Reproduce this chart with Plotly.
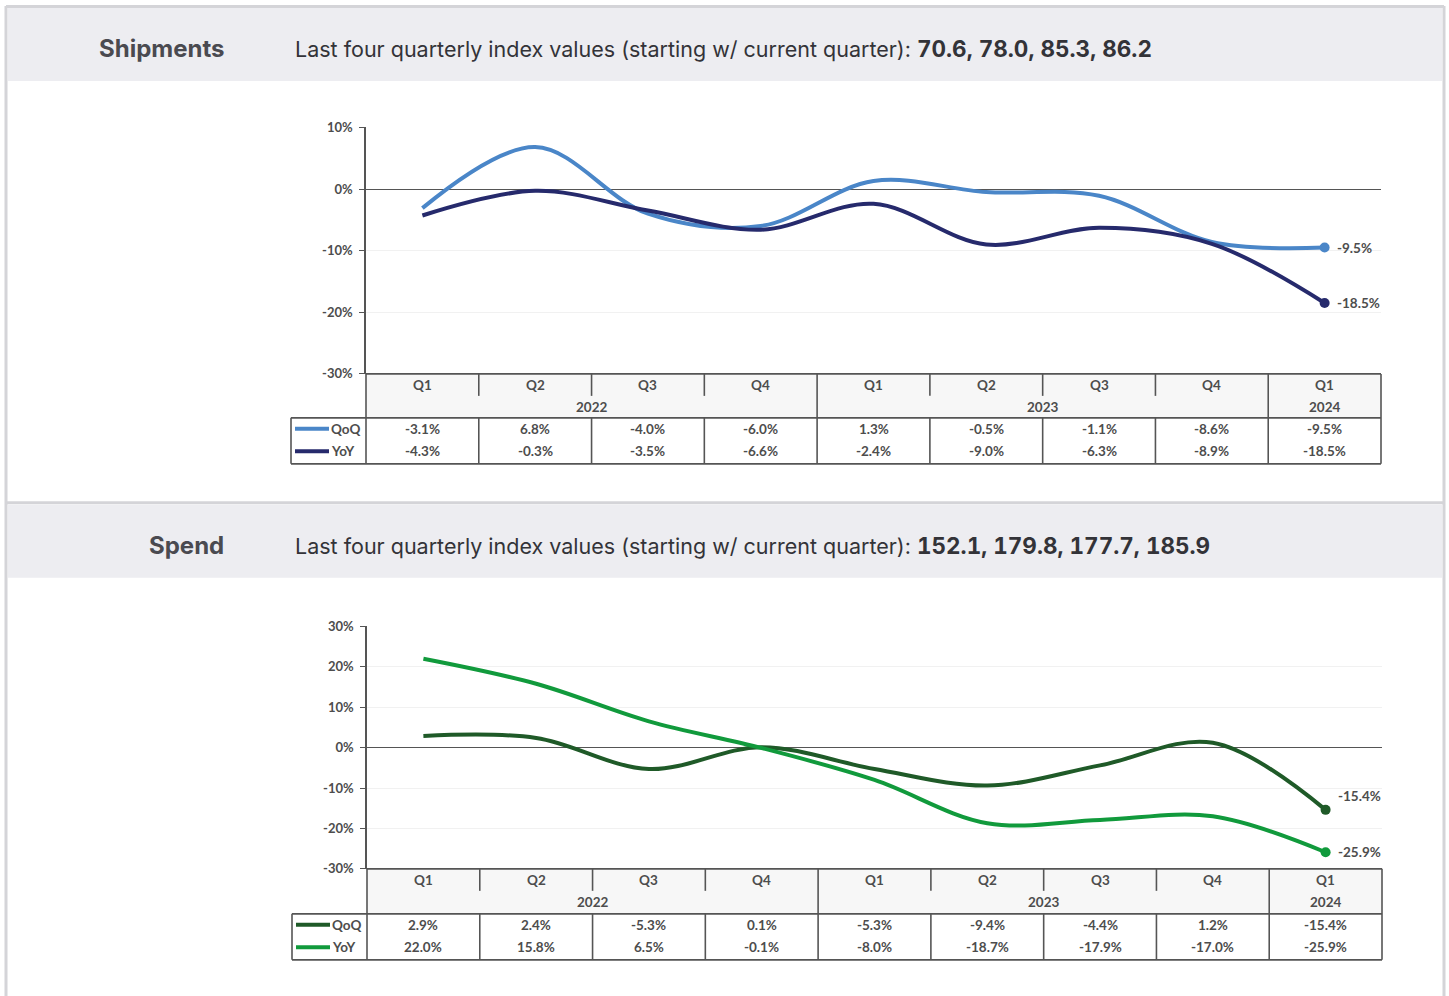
import plotly.graph_objects as go

PAGE_W, PAGE_H = 1449, 996
# vertical calibration of the viewer (measured over previous renders)
V_OFF, V_SCALE = 7.1, 0.984

quarters = ["Q1", "Q2", "Q3", "Q4", "Q1", "Q2", "Q3", "Q4", "Q1"]
years = ["2022", "2023", "2024"]
year_spans = [(0, 3), (4, 7), (8, 8)]

ship_qoq = [-3.1, 6.8, -4.0, -6.0, 1.3, -0.5, -1.1, -8.6, -9.5]
ship_yoy = [-4.3, -0.3, -3.5, -6.6, -2.4, -9.0, -6.3, -8.9, -18.5]
ship_index = [70.6, 78.0, 85.3, 86.2]

spend_qoq = [2.9, 2.4, -5.3, 0.1, -5.3, -9.4, -4.4, 1.2, -15.4]
spend_yoy = [22.0, 15.8, 6.5, -0.1, -8.0, -18.7, -17.9, -17.0, -25.9]
spend_index = [152.1, 179.8, 177.7, 185.9]

ship_ticks = [10, 0, -10, -20, -30]
spend_ticks = [30, 20, 10, 0, -10, -20, -30]

C_SHIP_QOQ = "#4a86c8"
C_SHIP_YOY = "#262a6c"
C_SPEND_QOQ = "#1f5a28"
C_SPEND_YOY = "#119a3c"
TXT = "#4d4d4d"
BORDER = "#555555"
TFONT = "Lato"
HFONT = "Inter"


def X(px):
    return px / PAGE_W


def Y(py):
    return 1 - ((py - V_OFF) / V_SCALE) / PAGE_H


fig = go.Figure()
shapes = []
annotations = []


def ann(**kw):
    kw.setdefault("showarrow", False)
    kw.setdefault("xanchor", "center")
    kw.setdefault("yanchor", "middle")
    annotations.append(kw)


def tfont(size=13.5):
    return dict(family=TFONT, size=size, color=TXT, weight="bold")


sections = [
    dict(name="Shipments", index=ship_index, qoq=ship_qoq, yoy=ship_yoy,
         cq=C_SHIP_QOQ, cy=C_SHIP_YOY, ticks=ship_ticks, rng=[-30, 10],
         title_y=48, left=366, right=1381, top=126.5, bottom=373,
         table_left=291, hdr_mid=395, hdr_bot=417, tbl_bot=463,
         xa="x", ya="y", lbl_shift=[0, 0]),
    dict(name="Spend", index=spend_index, qoq=spend_qoq, yoy=spend_yoy,
         cq=C_SPEND_QOQ, cy=C_SPEND_YOY, ticks=spend_ticks, rng=[-30, 30],
         title_y=545, left=367, right=1382, top=625.5, bottom=868,
         table_left=292, hdr_mid=890, hdr_bot=913, tbl_bot=959,
         xa="x2", ya="y2", lbl_shift=[14, 0]),
]

# page frame
shapes.append(dict(type="rect", xref="paper", yref="paper", x0=X(8), x1=X(1442),
                   y0=Y(7), y1=Y(80), fillcolor="#ededf1", line=dict(width=0), layer="below"))
shapes.append(dict(type="rect", xref="paper", yref="paper", x0=X(8), x1=X(1442),
                   y0=Y(504), y1=Y(577), fillcolor="#ededf1", line=dict(width=0), layer="below"))
for seg in [((6, 5.5), (1444, 5.5)), ((6, 5), (6, 996)), ((1444, 5), (1444, 996)), ((6, 502), (1444, 502))]:
    (xa0, ya0), (xa1, ya1) = seg
    shapes.append(dict(type="line", xref="paper", yref="paper", x0=X(xa0), y0=Y(ya0),
                       x1=X(xa1), y1=Y(ya1), line=dict(color="#d4d4d8", width=3)))

for k, s in enumerate(sections):
    xa, ya = s["xa"], s["ya"]
    xs = list(range(len(quarters)))
    for vals, col, nm in [(s["qoq"], s["cq"], "QoQ"), (s["yoy"], s["cy"], "YoY")]:
        fig.add_trace(go.Scatter(x=xs, y=vals, mode="lines", xaxis=xa, yaxis=ya,
                                 line=dict(color=col, width=4, shape="spline", smoothing=1.0),
                                 showlegend=False, hoverinfo="skip"))
        fig.add_trace(go.Scatter(x=[xs[-1]], y=[vals[-1]], mode="markers", xaxis=xa, yaxis=ya,
                                 marker=dict(color=col, size=10), showlegend=False, hoverinfo="skip"))
    for vals, sh in [(s["qoq"], s["lbl_shift"][0]), (s["yoy"], s["lbl_shift"][1])]:
        ann(x=xs[-1], y=vals[-1], xref=xa, yref=ya, text=f"{vals[-1]:.1f}%",
            xanchor="left", xshift=10, yshift=sh, font=tfont())

    # header
    ann(x=X(226), y=Y(s["title_y"]), xref="paper", yref="paper",
        text=f"<b>{s['name']}</b>", xanchor="right",
        font=dict(family=HFONT, size=24, color="#4a4a50"))
    idx_txt = ", ".join(f"{v:.1f}" for v in s["index"])
    ann(x=X(293), y=Y(s["title_y"]), xref="paper", yref="paper",
        text=("Last four quarterly index values (starting w/ current quarter): "
              f"<span style='font-size:22.5px;font-variant-numeric:tabular-nums'><b>{idx_txt}</b></span>"),
        xanchor="left", font=dict(family=HFONT, size=21.5, color="#333338"))

    # table
    L, R = s["left"], s["right"]
    t0, tm, tb, tbot = s["bottom"], s["hdr_mid"], s["hdr_bot"], s["tbl_bot"]
    shapes.append(dict(type="rect", xref="paper", yref="paper", x0=X(L), x1=X(R),
                       y0=Y(tb), y1=Y(t0), fillcolor="#f7f7f7", line=dict(width=0), layer="below"))
    lw = 1.6

    def hline(py, x0p, x1p):
        shapes.append(dict(type="line", xref="paper", yref="paper", x0=X(x0p), x1=X(x1p),
                           y0=Y(py), y1=Y(py), line=dict(color=BORDER, width=lw)))

    def vline_data(xv, py0, py1):
        shapes.append(dict(type="line", xref=xa, yref="paper", x0=xv, x1=xv,
                           y0=Y(py0), y1=Y(py1), line=dict(color=BORDER, width=lw)))

    def vline_px(px, py0, py1):
        shapes.append(dict(type="line", xref="paper", yref="paper", x0=X(px), x1=X(px),
                           y0=Y(py0), y1=Y(py1), line=dict(color=BORDER, width=lw)))

    hline(t0, L, R)
    hline(tb, s["table_left"], R)
    hline(tbot, s["table_left"], R)
    vline_px(L, t0, tbot)
    vline_px(R, t0, tbot)
    vline_px(s["table_left"], tb, tbot)
    for i in range(len(quarters) - 1):
        b = i + 0.5
        if i in (3, 7):
            vline_data(b, t0, tbot)
        else:
            vline_data(b, t0, tm)
            vline_data(b, tb, tbot)
    row_q = (t0 + tm) / 2
    row_y = (tm + tb) / 2
    row1 = tb + 11
    row2 = tb + 33.5
    for i, q in enumerate(quarters):
        ann(x=i, y=Y(row_q), xref=xa, yref="paper", text=q, font=tfont())
        ann(x=i, y=Y(row1), xref=xa, yref="paper", text=f"{s['qoq'][i]:.1f}%", font=tfont())
        ann(x=i, y=Y(row2), xref=xa, yref="paper", text=f"{s['yoy'][i]:.1f}%", font=tfont())
    for yr, (a, b) in zip(years, year_spans):
        ann(x=(a + b) / 2, y=Y(row_y), xref=xa, yref="paper", text=yr, font=tfont())
    tlx = s["table_left"]
    for py, col, nm in [(row1, s["cq"], "QoQ"), (row2, s["cy"], "YoY")]:
        shapes.append(dict(type="line", xref="paper", yref="paper", x0=X(tlx + 4), x1=X(tlx + 38),
                           y0=Y(py), y1=Y(py), line=dict(color=col, width=4)))
        ann(x=X(tlx + 38), y=Y(py), xref="paper", yref="paper", text=nm,
            xanchor="left", font=tfont())

axis_common = dict(showgrid=True, gridcolor="#f1f1f1", gridwidth=1, zeroline=True,
                   zerolinecolor="#555555", zerolinewidth=1, showline=True, linecolor="#555555",
                   linewidth=1.5, ticks="outside", ticklen=5, tickcolor="#555555",
                   ticklabelstandoff=4, tickfont=tfont(13))

s0, s1 = sections
fig.update_layout(
    width=PAGE_W, height=PAGE_H, margin=dict(l=0, r=0, t=0, b=0, pad=0), autosize=False,
    paper_bgcolor="white", plot_bgcolor="white",
    shapes=shapes, annotations=annotations, showlegend=False,
    xaxis=dict(domain=[X(s0["left"]), X(s0["right"])], range=[-0.5, 8.5], showticklabels=False,
               showgrid=False, zeroline=False, anchor="y"),
    yaxis=dict(domain=[Y(s0["bottom"]), Y(s0["top"])], range=s0["rng"], tickvals=s0["ticks"],
               ticktext=[f"{t}%" for t in s0["ticks"]], anchor="x", **axis_common),
    xaxis2=dict(domain=[X(s1["left"]), X(s1["right"])], range=[-0.5, 8.5], showticklabels=False,
                showgrid=False, zeroline=False, anchor="y2"),
    yaxis2=dict(domain=[Y(s1["bottom"]), Y(s1["top"])], range=s1["rng"], tickvals=s1["ticks"],
                ticktext=[f"{t}%" for t in s1["ticks"]], anchor="x2", **axis_common),
)

fig.write_html("out.html", config={"displayModeBar": False, "responsive": False},
               post_script="document.body.style.margin='0';document.body.style.overflow='hidden';")
